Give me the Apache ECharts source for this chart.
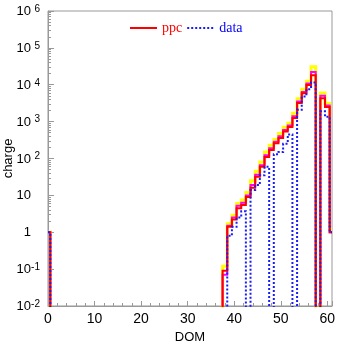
<!DOCTYPE html>
<html>
<head>
<meta charset="utf-8">
<script src="https://cdn.jsdelivr.net/npm/echarts@6/dist/echarts.min.js"></script>
<style>
  html, body { margin: 0; padding: 0; background: #fff; }
  #chart { width: 337px; height: 344px; }
</style>
</head>
<body>
<div id="chart"></div>
<script>
// Charge per DOM (DOM 0 .. 61), step histograms on a log scale.
// A value of 0 means no charge recorded in that DOM.
const ppc = [
  1,
  0, 0, 0, 0, 0, 0, 0, 0, 0, 0,
  0, 0, 0, 0, 0, 0, 0, 0, 0, 0,
  0, 0, 0, 0, 0, 0, 0, 0, 0, 0,
  0, 0, 0, 0, 0, 0, 0,
  0.09, 1.4, 2.2, 4.5, 5.5, 9, 16, 32, 60, 110,
  170, 260, 360, 540, 720, 1250, 3200, 5900, 9800, 18000,
  0, 4300, 2500, 1
];
const ppcUpper = [
  1,
  0, 0, 0, 0, 0, 0, 0, 0, 0, 0,
  0, 0, 0, 0, 0, 0, 0, 0, 0, 0,
  0, 0, 0, 0, 0, 0, 0, 0, 0, 0,
  0, 0, 0, 0, 0, 0, 0,
  0.12, 1.7, 2.9, 6, 7.5, 12, 25, 45, 80, 150,
  230, 330, 480, 700, 900, 1700, 4200, 7500, 12500, 31000,
  0, 6000, 3100, 1.2
];
const ppcAlt = [
  1,
  0, 0, 0, 0, 0, 0, 0, 0, 0, 0,
  0, 0, 0, 0, 0, 0, 0, 0, 0, 0,
  0, 0, 0, 0, 0, 0, 0, 0, 0, 0,
  0, 0, 0, 0, 0, 0, 0,
  0.07, 1.5, 2.5, 5.2, 6.3, 10, 19, 36, 66, 122,
  190, 285, 400, 590, 790, 1400, 3500, 6400, 10800, 22000,
  0, 5000, 2750, 1
];
const data = [
  1,
  0, 0, 0, 0, 0, 0, 0, 0, 0, 0,
  0, 0, 0, 0, 0, 0, 0, 0, 0, 0,
  0, 0, 0, 0, 0, 0, 0, 0, 0, 0,
  0, 0, 0, 0, 0, 0, 0,
  0, 0.8, 1.4, 2.5, 3.7, 0, 14, 19, 35, 60,
  0, 130, 150, 250, 450, 0, 2100, 4800, 7600, 11500,
  0, 1900, 1350, 1
];
const xTicks = { min: 0, max: 61, step: 10 };
const yTicks = { min: 0.01, max: 1e6 };

// empty bins are pushed below the visible range so the steps drop to the axis
const FLOOR = 1e-4;
const toPairs = arr => arr.map((v, i) => [i, v > 0 ? v : FLOOR]);

// log-decade minor tick positions (2..9 x 10^k)
const minorVals = [];
for (let k = -2; k < 6; k++) {
  for (let m = 2; m <= 9; m++) minorVals.push(m * Math.pow(10, k));
}

const SANS = 'Liberation Sans, Arial, sans-serif';
const SERIF = 'Liberation Serif, Times New Roman, serif';
const AXIS_GRAY = '#999';

function yLabel(value) {
  const e = Math.round(Math.log10(value));
  if (e === 0) return '{b|1}{p|}';
  if (e === 1) return '{b|10}{p|}';
  return '{b|10}{e|' + e + '}';
}

const chart = echarts.init(document.getElementById('chart'), null, { renderer: 'canvas' });

const stepSeries = (name, arr, color, width, type, z) => ({
  name: name,
  type: 'line',
  step: 'middle',
  symbol: 'none',
  clip: true,
  z: z,
  animation: false,
  data: toPairs(arr),
  lineStyle: { color: color, width: width, type: type, cap: 'butt', join: 'miter' },
  itemStyle: { color: color }
});

chart.setOption({
  animation: false,
  backgroundColor: '#fff',
  grid: {
    left: 48, right: 5, top: 11, bottom: 38,
    outerBoundsMode: 'none',
    containLabel: false,
    show: true, borderColor: AXIS_GRAY, borderWidth: 1, backgroundColor: 'transparent'
  },
  legend: {
    left: 124, top: 16,
    itemWidth: 27, itemHeight: 14, itemGap: 4,
    itemStyle: { opacity: 0 },
    data: [
      { name: 'ppc', textStyle: { color: '#ff0000' } },
      { name: 'data', textStyle: { color: '#0000ff' } }
    ],
    textStyle: { fontFamily: SERIF, fontSize: 14, padding: [0, 0, 0, 0] }
  },
  xAxis: {
    type: 'value',
    min: xTicks.min, max: xTicks.max, interval: xTicks.step,
    name: 'DOM', nameLocation: 'middle', nameGap: 25, nameMoveOverlap: false,
    nameTextStyle: { fontFamily: SANS, fontSize: 13, color: '#000' },
    axisLine: { show: true, lineStyle: { color: AXIS_GRAY, width: 1 } },
    axisTick: { show: true, inside: true, length: 5, lineStyle: { color: AXIS_GRAY } },
    minorTick: { show: true, splitNumber: 5, length: 3, lineStyle: { color: AXIS_GRAY } },
    axisLabel: { fontFamily: SANS, fontSize: 14, color: '#000', margin: 6,
      formatter: v => (v <= 60 ? String(v) : '') },
    splitLine: { show: false }
  },
  yAxis: [
    {
      type: 'log', logBase: 10,
      min: yTicks.min, max: yTicks.max, interval: 1,
      name: 'charge', nameLocation: 'middle', nameGap: 33, nameRotate: 90,
      nameMoveOverlap: false,
      nameTextStyle: { fontFamily: SANS, fontSize: 13, color: '#000' },
      axisLine: { show: true, lineStyle: { color: AXIS_GRAY, width: 1 } },
      axisTick: { show: true, inside: true, length: 6, lineStyle: { color: AXIS_GRAY } },
      splitLine: { show: false },
      axisLabel: {
        margin: 8, align: 'right',
        formatter: yLabel,
        rich: {
          b: { fontFamily: SANS, fontSize: 13, color: '#000', lineHeight: 14,
               padding: [8, 0, 0, 0], verticalAlign: 'bottom' },
          e: { fontFamily: SANS, fontSize: 10, color: '#000', lineHeight: 12,
               width: 9, align: 'right', verticalAlign: 'top' },
          p: { width: 9, lineHeight: 12, verticalAlign: 'top' }
        }
      }
    },
    {
      type: 'log', logBase: 10,
      min: yTicks.min, max: yTicks.max, position: 'left',
      axisLine: { show: false },
      axisLabel: { show: false },
      splitLine: { show: false },
      axisTick: { show: true, inside: true, length: 3, customValues: minorVals,
        lineStyle: { color: AXIS_GRAY } }
    }
  ],
  series: [
    Object.assign(stepSeries('ppc upper', ppcUpper, '#ffff00', 3, 'solid', 1), { legendHoverLink: false }),
    Object.assign(stepSeries('ppc alt', ppcAlt, '#ff00ff', 2, 'solid', 2), { legendHoverLink: false }),
    stepSeries('ppc', ppc, '#ff0000', 2, 'solid', 3),
    stepSeries('data', data, '#1a1aff', 2, [2, 2], 4)
  ]
});
</script>
</body>
</html>
